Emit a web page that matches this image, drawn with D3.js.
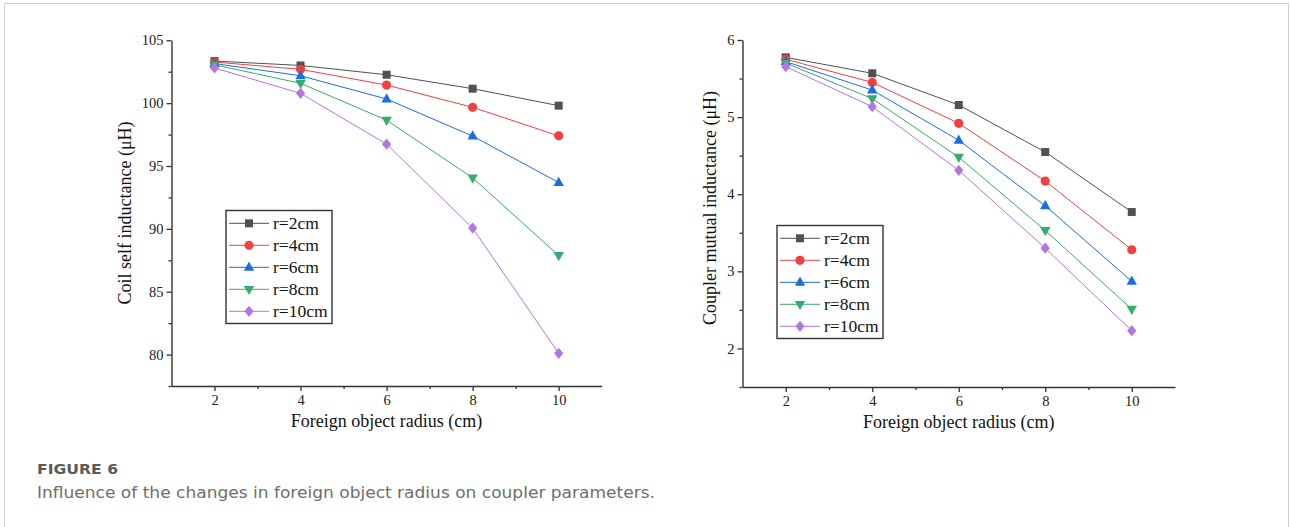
<!DOCTYPE html>
<html>
<head>
<meta charset="utf-8">
<script src="https://cdn.jsdelivr.net/npm/d3@7"></script>
<style>
  html, body { margin: 0; padding: 0; background: #fff; }
  svg { display: block; }
</style>
</head>
<body>
<svg id="fig" width="1290" height="527"></svg>
<script>
// Foreign object radius (cm) on the x axis
const radii = [2, 4, 6, 8, 10];
// Legend labels for each series
const seriesNames = ["r=2cm", "r=4cm", "r=6cm", "r=8cm", "r=10cm"];
// Coil self inductance (μH)
const selfInd_r2  = [103.35, 103.0, 102.26, 101.15, 99.8];
const selfInd_r4  = [103.27, 102.69, 101.44, 99.67, 97.4];
const selfInd_r6  = [103.15, 102.18, 100.33, 97.38, 93.69];
const selfInd_r8  = [103.05, 101.58, 98.65, 94.06, 87.88];
const selfInd_r10 = [102.8, 100.78, 96.74, 90.06, 80.1];
// Coupler mutual inductance (μH)
const mutInd_r2  = [5.775, 5.568, 5.157, 4.547, 3.769];
const mutInd_r4  = [5.75, 5.45, 4.92, 4.17, 3.28];
const mutInd_r6  = [5.72, 5.35, 4.70, 3.85, 2.87];
const mutInd_r8  = [5.70, 5.24, 4.48, 3.53, 2.51];
const mutInd_r10 = [5.654, 5.135, 4.31, 3.30, 2.23];
// Tick values
const xTicks = [2, 4, 6, 8, 10];
const xMinorTicks = [3, 5, 7, 9];
const selfTicks = [80, 85, 90, 95, 100, 105];
const selfMinorTicks = [77.5, 82.5, 87.5, 92.5, 97.5, 102.5];
const mutTicks = [2, 3, 4, 5, 6];
const mutMinorTicks = [1.5, 2.5, 3.5, 4.5, 5.5];

const colors = ["#515151", "#F14040", "#1A6FDF", "#37AD6B", "#B177DE"];
const shapes = ["square", "circle", "triUp", "triDown", "diamond"];

const svg = d3.select("#fig");
const serif = "'Liberation Serif', 'Times New Roman', serif";

// outer frame
svg.append("rect")
  .attr("x", 4.5).attr("y", 3.5).attr("width", 1284).attr("height", 560)
  .attr("fill", "none").attr("stroke", "#d2d2d2").attr("stroke-width", 1);

function markerPath(shape) {
  switch (shape) {
    case "square": return "M-4,-4H4V4H-4Z";
    case "circle": return d3.symbol(d3.symbolCircle, Math.PI * 4.6 * 4.6)();
    case "triUp": return "M0,-5.8L5.2,3.4L-5.2,3.4Z";
    case "triDown": return "M0,5.8L5.2,-3.4L-5.2,-3.4Z";
    case "diamond": return "M0,-5.6L4.6,0L0,5.6L-4.6,0Z";
  }
}

function drawPanel(cfg) {
  const g = svg.append("g");
  const x = d3.scaleLinear().domain([1, 11]).range([cfg.left, cfg.right]);
  const y = d3.scaleLinear().domain(cfg.yDomain).range([cfg.bottom, cfg.top]);

  // minor ticks
  const xMinor = g.append("g").attr("transform", `translate(0,${cfg.bottom})`)
    .call(d3.axisBottom(x).tickValues(xMinorTicks).tickSize(3).tickFormat(""));
  const yMinor = g.append("g").attr("transform", `translate(${cfg.left},0)`)
    .call(d3.axisLeft(y).tickValues(cfg.yMinor).tickSize(3).tickFormat(""));
  [xMinor, yMinor].forEach(a => {
    a.select(".domain").remove();
    a.selectAll("line").attr("stroke", "#333").attr("stroke-width", 1.3);
  });

  // major axes
  const xAxis = g.append("g").attr("transform", `translate(0,${cfg.bottom})`)
    .call(d3.axisBottom(x).tickValues(xTicks).tickSize(5).tickPadding(4).tickSizeOuter(0)
      .tickFormat(d3.format("d")));
  const yAxis = g.append("g").attr("transform", `translate(${cfg.left},0)`)
    .call(d3.axisLeft(y).tickValues(cfg.yTicks).tickSize(5).tickPadding(3).tickSizeOuter(0)
      .tickFormat(d3.format("d")));
  [xAxis, yAxis].forEach(a => {
    a.select(".domain").attr("stroke", "#333").attr("stroke-width", 1.4);
    a.selectAll(".tick line").attr("stroke", "#333").attr("stroke-width", 1.3);
    a.selectAll("text").attr("font-family", serif).attr("font-size", 14.5).attr("fill", "#222");
  });

  // axis titles
  g.append("text")
    .attr("x", (cfg.left + cfg.right) / 2).attr("y", cfg.bottom + 41)
    .attr("text-anchor", "middle")
    .attr("font-family", serif).attr("font-size", 18).attr("fill", "#111")
    .text("Foreign object radius (cm)");
  g.append("text")
    .attr("transform", `translate(${cfg.yTitleX},${cfg.yTitleY}) rotate(-90)`)
    .attr("text-anchor", "middle")
    .attr("font-family", serif).attr("font-size", 18).attr("fill", "#111")
    .text(cfg.yTitle);

  // series lines and markers
  const line = d3.line().x((d, i) => x(radii[i])).y(d => y(d));
  cfg.series.forEach((vals, si) => {
    g.append("path").datum(vals)
      .attr("d", line).attr("fill", "none")
      .attr("stroke", colors[si]).attr("stroke-width", 1);
  });
  cfg.series.forEach((vals, si) => {
    g.selectAll(null).data(vals).enter().append("path")
      .attr("d", markerPath(shapes[si]))
      .attr("transform", (d, i) => `translate(${x(radii[i])},${y(d)})`)
      .attr("fill", colors[si]);
  });

  // legend
  const lg = g.append("g").attr("transform", `translate(${cfg.legX},${cfg.legY})`);
  lg.append("rect").attr("x", 0).attr("y", 0).attr("width", 106).attr("height", 113)
    .attr("fill", "#fff").attr("stroke", "#333").attr("stroke-width", 1.4);
  seriesNames.forEach((name, si) => {
    const ry = 12.8 + si * 22;
    lg.append("line").attr("x1", 3).attr("x2", 43).attr("y1", ry).attr("y2", ry)
      .attr("stroke", colors[si]).attr("stroke-width", 1);
    lg.append("path").attr("d", markerPath(shapes[si]))
      .attr("transform", `translate(23,${ry})`).attr("fill", colors[si]);
    lg.append("text").attr("x", 47).attr("y", ry + 6)
      .attr("font-family", serif).attr("font-size", 17.5).attr("fill", "#111")
      .text(name);
  });
}

drawPanel({
  left: 171.5, right: 601.7, top: 40.3, bottom: 386,
  yDomain: [77.5, 105], yTicks: selfTicks, yMinor: selfMinorTicks,
  yTitle: "Coil self inductance (\u03bcH)", yTitleX: 131, yTitleY: 213,
  series: [selfInd_r2, selfInd_r4, selfInd_r6, selfInd_r8, selfInd_r10],
  legX: 226, legY: 210.5
});

drawPanel({
  left: 742.5, right: 1175, top: 40, bottom: 387,
  yDomain: [1.5, 6], yTicks: mutTicks, yMinor: mutMinorTicks,
  yTitle: "Coupler mutual inductance (\u03bcH)", yTitleX: 716, yTitleY: 208,
  series: [mutInd_r2, mutInd_r4, mutInd_r6, mutInd_r8, mutInd_r10],
  legX: 777, legY: 225.5
});

// caption
const sans = "'DejaVu Sans', 'Open Sans', sans-serif";
svg.append("text").attr("x", 37).attr("y", 474)
  .attr("font-family", sans).attr("font-size", 14.5).attr("font-weight", 700)
  .attr("fill", "#5a5a5a")
  .attr("textLength", 81).attr("lengthAdjust", "spacingAndGlyphs")
  .text("FIGURE 6");
svg.append("text").attr("x", 37).attr("y", 497.5)
  .attr("font-family", sans).attr("font-size", 15.5)
  .attr("fill", "#6e6e6e")
  .attr("textLength", 618).attr("lengthAdjust", "spacingAndGlyphs")
  .text("Influence of the changes in foreign object radius on coupler parameters.");
</script>
</body>
</html>
